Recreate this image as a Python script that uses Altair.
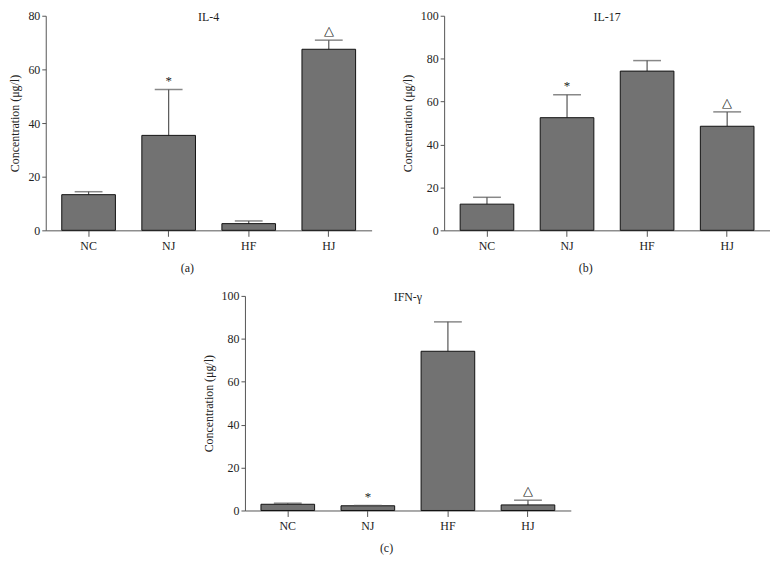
import altair as alt
import pandas as pd

groups = ["NC", "NJ", "HF", "HJ"]

il4_values = [13.3, 35.4, 2.5, 67.5]
il4_upper = [14.4, 52.5, 3.5, 70.9]
il4_marks = ["", "*", "", "△"]

il17_values = [12.2, 52.5, 74.2, 48.5]
il17_upper = [15.4, 63.2, 79.1, 55.2]
il17_marks = ["", "*", "", "△"]

ifn_values = [2.9, 2.2, 74.2, 2.6]
ifn_upper = [3.4, 2.3, 87.9, 4.8]
ifn_marks = ["", "*", "", "△"]

FONT = "Liberation Serif"
W, H = 328, 216


def panel(title, caption, values, upper, marks, ymax, step):
    df = pd.DataFrame({"group": groups, "value": values, "upper": upper, "mark": marks})
    xenc = alt.X(
        "group:N",
        sort=groups,
        scale=alt.Scale(paddingInner=0.33, paddingOuter=0.2),
        axis=alt.Axis(
            title=caption,
            titleFont=FONT,
            titleFontSize=12,
            titleFontWeight="normal",
            titleColor="#222",
            titleX=W / 2 - 22,
            titlePadding=11,
            labelAngle=0,
            labelFont=FONT,
            labelFontSize=12,
            labelColor="#222",
            labelPadding=4,
            domainColor="#555",
            tickColor="#555",
            tickSize=6,
        ),
    )
    yscale = alt.Scale(domain=[0, ymax], nice=False)
    base = alt.Chart(df).encode(x=xenc)
    bars = base.mark_bar(fill="#727272", stroke="#111", strokeWidth=1).encode(
        y=alt.Y(
            "value:Q",
            scale=yscale,
            axis=alt.Axis(
                title="Concentration (μg/l)",
                titleFont=FONT,
                titleFontSize=12,
                titleFontWeight="normal",
                titleColor="#222",
                titlePadding=6,
                values=list(range(0, ymax + 1, step)),
                grid=False,
                labelFont=FONT,
                labelFontSize=12,
                labelColor="#222",
                domainColor="#555",
                tickColor="#555",
                tickSize=4,
            ),
        )
    )
    rule = base.mark_rule(color="#555", strokeWidth=1.2).encode(
        y=alt.Y("value:Q", scale=yscale), y2="upper:Q"
    )
    cap = base.mark_tick(color="#555", size=28, thickness=1.5, orient="horizontal").encode(
        y=alt.Y("upper:Q", scale=yscale)
    )
    txt = base.mark_text(font=FONT, fontSize=13, dy=-9, color="#222").encode(
        y=alt.Y("upper:Q", scale=yscale), text="mark:N"
    )
    return alt.layer(rule, bars, cap, txt).properties(
        width=W,
        height=H,
        view=alt.ViewBackground(strokeOpacity=0, strokeWidth=0),
        title=alt.TitleParams(
            title, font=FONT, fontSize=12, fontWeight="normal", color="#222", offset=-14
        ),
    )


a = panel("IL-4", "(a)", il4_values, il4_upper, il4_marks, 80, 20)
b = panel("IL-17", "(b)", il17_values, il17_upper, il17_marks, 100, 20)
c = panel("IFN-γ", "(c)", ifn_values, ifn_upper, ifn_marks, 100, 20)

chart = (
    alt.vconcat(alt.hconcat(a, b, spacing=30), c, spacing=17, center=True)
    .properties(padding={"left": 1, "top": 0, "right": 0, "bottom": 0})
    .configure_view(strokeWidth=0, strokeOpacity=0)
    .configure(background="white")
)

chart.save("out.html", embed_options={"renderer": "svg", "actions": False})
